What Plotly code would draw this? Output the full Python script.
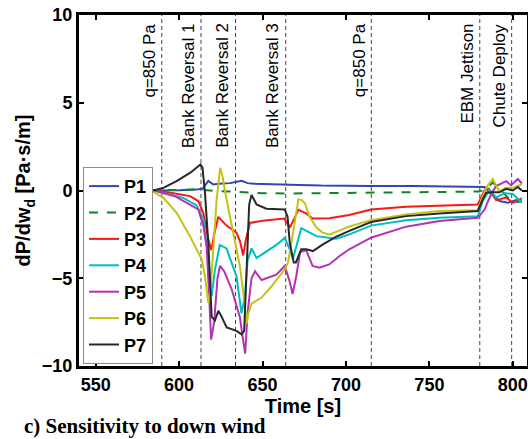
import plotly.graph_objects as go

# ---- data ----
p1_t = [550, 585, 600, 610, 614, 617.5, 620.5, 624, 630.5, 637.5, 641, 645, 655, 665, 672, 685, 702, 715, 740, 760, 780, 783, 787, 792, 797, 802, 805.4]
p1_v = [0, 0, 0.02, 0.05, 0.1, 0.55, 0.34, 0.38, 0.42, 0.55, 0.42, 0.38, 0.36, 0.37, 0.32, 0.28, 0.25, 0.25, 0.25, 0.24, 0.24, 0.2, -0.2, -0.6, -0.7, -0.55, -0.65]

p2_t = [550, 585, 600, 612, 620, 630, 640, 650, 665, 680, 700, 720, 740, 760, 780, 784, 788, 792, 796, 800, 805.4]
p2_v = [0, 0, 0.03, 0.06, -0.02, -0.06, -0.12, -0.15, -0.17, -0.16, -0.14, -0.12, -0.1, -0.08, -0.06, 0.1, 0.45, 0.1, -0.3, -0.7, -0.6]

p3_t = [550, 585, 595, 606.5, 611.5, 614.5, 617.5, 619.3, 621, 623.5, 625.5, 628.4, 634.4, 636.5, 638.4, 640, 642.4, 650, 663, 666.5, 671.5, 676, 680, 690, 702, 715, 736, 756, 779, 783, 785.5, 790, 796, 800, 805.4]
p3_v = [0, 0, -0.13, -0.32, -0.6, -1.27, -2.8, -3.4, -2.5, -1.5, -1.7, -2.0, -2.4, -2.9, -3.7, -2.8, -1.85, -1.72, -1.6, -2.1, -1.1, -1.3, -1.6, -1.58, -1.4, -1.08, -0.93, -0.85, -0.8, 0.0, 0.1, -0.55, -0.4, -0.7, -0.45]

p4_t = [550, 585, 602.5, 610.5, 614.5, 617.5, 619.5, 621.5, 624.4, 628.4, 634.4, 637.4, 639.5, 641, 643.4, 646.4, 650.3, 658.3, 663.3, 666.3, 668.2, 673.2, 677.2, 682.2, 694.2, 702, 715, 736, 756, 779, 782, 786, 790, 795, 800, 805.4]
p4_v = [0, 0, -0.42, -0.85, -1.6, -3.9, -6.0, -4.5, -3.1, -3.3, -4.9, -7.0, -6.0, -4.0, -3.3, -3.85, -3.6, -3.1, -2.7, -3.35, -3.9, -2.15, -2.35, -2.6, -2.75, -2.5, -2.0, -1.7, -1.55, -1.47, -0.6, 0.05, -0.4, -0.15, -0.2, -0.7]

p5_t = [550, 585, 598, 606.5, 611.5, 614.5, 616.5, 617.8, 619.2, 621, 623, 624.5, 627, 631.4, 636.4, 638, 639.6, 641, 643.4, 645.5, 649.4, 658.3, 663.3, 666.3, 668, 670.2, 672.5, 676.2, 680, 684.2, 690.2, 696.2, 702, 715, 736, 756, 779, 783, 787, 790, 796, 799, 803, 805.4]
p5_v = [0, 0, -0.35, -0.8, -1.08, -2.0, -3.2, -5.6, -8.5, -7.5, -5.0, -4.3, -4.6, -5.6, -7.2, -8.3, -9.3, -7.0, -5.0, -4.6, -5.1, -4.8, -4.3, -5.2, -5.9, -4.9, -3.5, -3.4, -4.3, -4.4, -4.2, -3.73, -3.35, -2.69, -2.06, -1.74, -1.55, -1.1, -0.2, 0.25, 0.53, 0.3, 0.66, 0.4]

p6_t = [550, 580, 585, 590.6, 598.5, 606.5, 611.5, 613.5, 615.5, 617.5, 619, 620.5, 622.5, 624.6, 626, 628.4, 632.4, 636.4, 638.5, 640.4, 641.5, 643.4, 649.4, 655, 663.3, 665.3, 668.3, 671.5, 673.5, 675.5, 678.2, 682.2, 686, 690.2, 698.2, 702, 715, 736, 756, 779, 782, 785, 788, 791.9, 796, 799.8, 805.4]
p6_v = [0, 0, -0.1, -0.42, -1.27, -2.6, -3.54, -3.9, -4.9, -6.4, -5.5, -3.3, -0.5, 1.29, 0.8, -0.5, -2.4, -4.3, -5.8, -7.6, -7.0, -6.45, -6.1, -5.5, -4.5, -4.1, -2.4, -0.5, -0.55, -0.75, -1.5, -2.1, -2.4, -2.5, -2.2, -2.05, -1.69, -1.36, -1.17, -1.12, -0.3, 0.3, 0.65, -0.04, 0.15, 0.15, 0.35]

p7_t = [550, 585, 590.6, 598.5, 606.5, 610, 612.8, 614, 615.5, 617.5, 619.5, 621.5, 623.5, 625, 628.5, 634.4, 637.4, 639, 640.5, 642, 643.4, 646.4, 652.3, 663.3, 665, 666.3, 668.7, 670, 673.2, 676.2, 680.2, 686.2, 694.2, 702, 715, 736, 756, 779, 782, 784, 788, 792, 796, 800, 803, 805.4]
p7_v = [0, 0.02, 0.15, 0.53, 1.0, 1.25, 1.48, 1.3, -0.13, -3.0, -7.2, -7.4, -6.85, -7.1, -7.8, -8.0, -8.2, -8.0, -4.0, -0.8, -0.25, -0.8, -1.04, -1.08, -1.5, -2.97, -4.1, -4.1, -3.35, -3.35, -3.45, -3.07, -2.63, -2.3, -1.8, -1.46, -1.31, -1.17, -0.5, -0.13, -0.1, -0.1, 0.1, 0.0, 0.2, 0.0]

series_names = ["P1", "P2", "P3", "P4", "P5", "P6", "P7"]
series_t = [p1_t, p2_t, p3_t, p4_t, p5_t, p6_t, p7_t]
series_v = [p1_v, p2_v, p3_v, p4_v, p5_v, p6_v, p7_v]
series_colors = ["rgb(50,70,180)", "rgb(20,130,40)", "rgb(245,25,25)", "rgb(0,190,190)",
                 "rgb(180,50,180)", "rgb(195,195,20)", "rgb(40,40,40)"]
series_dash = ["solid", "dash", "solid", "solid", "solid", "solid", "solid"]

event_times = [589.6, 613.1, 633.8, 663.9, 715.2, 780.2, 799.3]
event_labels = ["q=850 Pa", "Bank Reversal 1", "Bank Reversal 2", "Bank Reversal 3",
                "q=850 Pa", "EBM Jettison", "Chute Deploy"]

x_ticks = [550, 600, 650, 700, 750, 800]
y_ticks = [-10, -5, 0, 5, 10]

FONT = "Liberation Sans, Arial, Helvetica, sans-serif"

fig = go.Figure()
for name, t, v, c, d in zip(series_names, series_t, series_v, series_colors, series_dash):
    fig.add_trace(go.Scatter(x=t, y=v, mode="lines", name=name,
                             line=dict(color=c, width=2, dash=d)))

for et, lab in zip(event_times, event_labels):
    fig.add_shape(type="line", xref="x", yref="paper", x0=et, x1=et, y0=0, y1=1,
                  line=dict(color="rgb(70,70,70)", width=1, dash="4px,3px"), layer="below")
    fig.add_annotation(x=et, y=0.982, xref="x", yref="paper", text=lab, textangle=-90,
                       showarrow=False, xanchor="right", yanchor="top", xshift=-1,
                       font=dict(family=FONT, size=17, color="black"))

fig.add_annotation(x=-0.128, y=-0.171, xref="paper", yref="paper",
                   text="c) Sensitivity to down wind", showarrow=False,
                   xanchor="left", yanchor="middle",
                   font=dict(family="Liberation Serif, Times New Roman, serif", size=21,
                             color="black", weight="bold"))

axis_common = dict(showline=True, linecolor="black", linewidth=3, mirror="ticks",
                   ticks="inside", ticklen=5, tickwidth=2, tickcolor="black",
                   showgrid=False, zeroline=False,
                   tickfont=dict(family=FONT, size=18, color="black", weight="bold"))

fig.update_layout(
    width=528, height=439,
    margin=dict(l=79, r=1, t=15, b=73),
    paper_bgcolor="white", plot_bgcolor="white",
    xaxis=dict(range=[540, 808.5], tickvals=x_ticks, automargin=False,
               title=dict(text="Time [s]", standoff=1,
                          font=dict(family=FONT, size=20, color="black", weight="bold")),
               **axis_common),
    yaxis=dict(range=[-10, 10], tickvals=y_ticks, automargin=False,
               title=dict(text="dP/dw<sub>d</sub> [Pa·s/m]", standoff=6,
                          font=dict(family=FONT, size=20, color="black", weight="bold")),
               **axis_common),
    legend=dict(x=0.009, y=0.006, xanchor="left", yanchor="bottom",
                bgcolor="white", bordercolor="rgb(140,140,140)", borderwidth=1,
                font=dict(family=FONT, size=18, color="black", weight="bold"),
                tracegroupgap=0),
    showlegend=True,
)

fig.write_html("out.html")
